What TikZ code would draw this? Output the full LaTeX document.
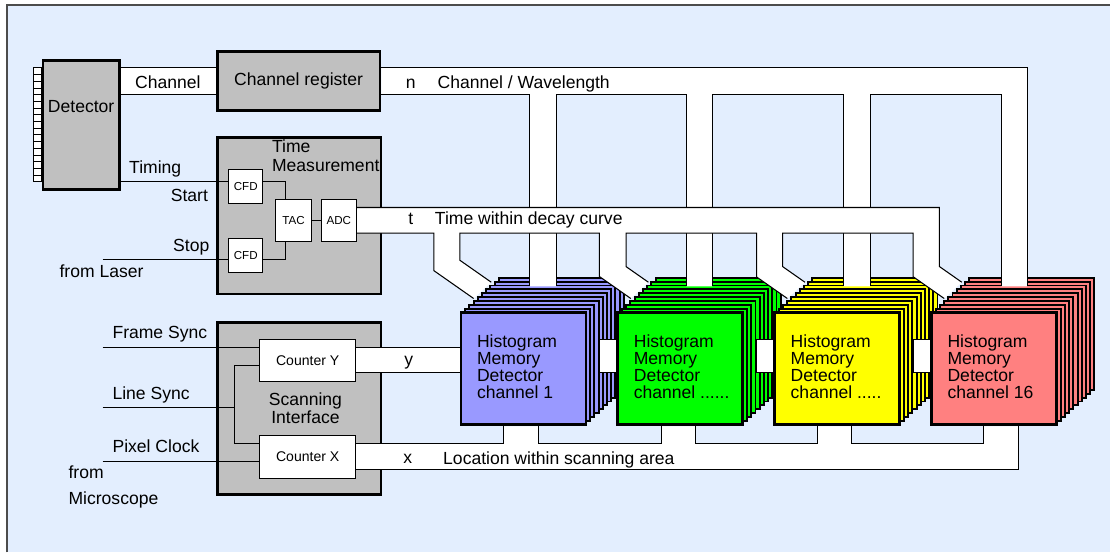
\documentclass[tikz,border=0pt]{standalone}
\usepackage{fontspec}
\setmainfont{Liberation Sans}
\definecolor{bgblue}{HTML}{E3EEFE}
\definecolor{boxgray}{HTML}{C0C0C0}
\definecolor{memblue}{HTML}{9999FF}
\definecolor{memgreen}{HTML}{00FF00}
\definecolor{memyellow}{HTML}{FFFF00}
\definecolor{memred}{HTML}{FF8080}
\begin{document}
\begin{tikzpicture}[
        x=0.02cm, y=-0.02cm,
        grayn/.style={draw, fill=boxgray, line width=1.6pt, inner sep=0pt},
        whiten/.style={draw, fill=white, line width=0.6pt, inner sep=0pt},
        memn/.style={draw, line width=1.6pt, minimum width=2.504cm, minimum height=2.244cm},
        memlayer/.style={draw, line width=1.1pt},
        memtext/.style={anchor=west, align=left, inner sep=0pt, font=\fontsize{10}{9.8}\selectfont},
        wire/.style={line width=0.6pt},
        lbl/.style={anchor=base west, inner sep=0pt},
        cfdfont/.style={font=\fontsize{6.6}{7}\selectfont},
        cntfont/.style={font=\fontsize{8}{9}\selectfont},
    ]
    \fill[bgblue] (7,5) rectangle (1111,553);
    \draw[line width=1.2pt, black!70] (7,553) -- (7,5) -- (1111,5);
    \useasboundingbox (0,0) rectangle (1111,553);

    % channel bus
    \fill[white] (120,68) rectangle (217,94.3);
    \draw[wire] (120,68) -- (217,68) (120,94.3) -- (217,94.3);

    % detector, register and the two interfaces
    \foreach \i in {0,...,16}
        \draw[fill=white, line width=0.5pt] (33,68+6.7*\i) rectangle ++(8.7,6.7);
    \node[grayn, minimum width=1.524cm, minimum height=2.578cm] (det) at (81.2,125.2) {};
    \node[anchor=base] (detlbl) at (81.2,112.3) {Detector};
    \node[grayn, minimum width=3.258cm, minimum height=1.178cm] (chreg) at (298.85,80.85) {Channel register};
    \node[grayn, minimum width=3.278cm, minimum height=3.138cm] (tm) at (299.35,215.85) {};
    \node[anchor=west, align=left, inner sep=0pt, font=\fontsize{10}{10.4}\selectfont] (tmlbl) at (272,156) {Time\\Measurement};
    \node[grayn, minimum width=3.278cm, minimum height=3.458cm] (scan) at (299.35,408.85) {};
    \node[align=center, inner sep=0pt, font=\fontsize{10}{9}\selectfont] (scanlbl) at (305.7,409) {Scanning\\Interface};

    % y and x buses
    \fill[white] (350,348.3) rectangle (460,373.3);
    \draw[wire] (350,348.3) -- (460,348.3) (350,373.3) -- (460,373.3);
    \fill[white] (350,444) -- (504.3,444) -- (504.3,426.7) -- (539.3,426.7) -- (539.3,444) -- (661.7,444) -- (661.7,426.7) -- (696,426.7) -- (696,444) -- (818.3,444) -- (818.3,426.7) -- (852.7,426.7) -- (852.7,444) -- (984,444) -- (984,426.7) -- (1019,426.7) -- (1019,470) -- (350,470) -- cycle;
    \draw[wire] (350,444) -- (504.3,444) -- (504.3,426.7)
        (539.3,426.7) -- (539.3,444) -- (661.7,444) -- (661.7,426.7)
        (696,426.7) -- (696,444) -- (818.3,444) -- (818.3,426.7)
        (852.7,426.7) -- (852.7,444) -- (984,444) -- (984,426.7)
        (1019,426.7) -- (1019,470) -- (350,470);

    % histogram memory stacks
    \foreach \fl/\col [count=\k] in {460/memblue, 617/memgreen, 774/memyellow, 931/memred}{
        \ifnum\k>1 \draw[wire, fill=white] (\fl-17,340) rectangle (\fl,373.3); \fi
        \foreach \i in {9,...,1}
            \draw[memlayer, fill=\col] (\fl+1.4+4.2*\i,313.1-3.9*\i) rectangle ++(125.2,112.2);
        \node[memn, fill=\col] (hm\k) at (\fl+64,369.2) {};
    }
    \node[memtext] (hmlbl1) at ([xshift=0.342cm, yshift=0.04cm]hm1.west) {Histogram\\Memory\\Detector\\channel 1};
    \node[memtext] (hmlbl2) at ([xshift=0.342cm, yshift=0.04cm]hm2.west) {Histogram\\Memory\\Detector\\channel ......};
    \node[memtext] (hmlbl3) at ([xshift=0.342cm, yshift=0.04cm]hm3.west) {Histogram\\Memory\\Detector\\channel .....};
    \node[memtext] (hmlbl4) at ([xshift=0.342cm, yshift=0.04cm]hm4.west) {Histogram\\Memory\\Detector\\channel 16};

    % n bus
    \fill[white] (381.7,68) -- (1028,68) -- (1028,286.7) -- (1002,286.7) -- (1002,94.3) -- (871,94.3) -- (871,286.7) -- (844,286.7) -- (844,94.3) -- (713,94.3) -- (713,286.7) -- (687,286.7) -- (687,94.3) -- (557,94.3) -- (557,286.7) -- (530,286.7) -- (530,94.3) -- (381.7,94.3) -- cycle;
    \draw[wire] (381.7,68) -- (1028,68) -- (1028,286.7)
        (1002,286.7) -- (1002,94.3) -- (871,94.3) -- (871,286.7)
        (844,286.7) -- (844,94.3) -- (713,94.3) -- (713,286.7)
        (687,286.7) -- (687,94.3) -- (557,94.3) -- (557,286.7)
        (530,286.7) -- (530,94.3) -- (381.7,94.3);

    % t bus
    \fill[white] (350,207.7) -- (940.3,207.7) -- (940.3,266.8) -- (962.7,282.5) -- (945.1,298.8) -- (914,277) -- (914,233.3) -- (783.3,233.3) -- (783.3,266.8) -- (805.7,282.5) -- (788.1,298.8) -- (757.3,277.2) -- (757.3,233.3) -- (626.7,233.3) -- (626.7,266.9) -- (649,282.5) -- (631.4,298.8) -- (600,276.8) -- (600,233.3) -- (460.3,233.3) -- (460.3,260.5) -- (491.7,282.5) -- (474.1,298.8) -- (434.3,270.9) -- (434.3,233.3) -- (350,233.3) -- cycle;
    \draw[wire] (350,207.7) -- (940.3,207.7) -- (940.3,266.8) -- (962.7,282.5)
        (945.1,298.8) -- (914,277) -- (914,233.3) -- (783.3,233.3) -- (783.3,266.8) -- (805.7,282.5)
        (788.1,298.8) -- (757.3,277.2) -- (757.3,233.3) -- (626.7,233.3) -- (626.7,266.9) -- (649,282.5)
        (631.4,298.8) -- (600,276.8) -- (600,233.3) -- (460.3,233.3) -- (460.3,260.5) -- (491.7,282.5)
        (474.1,298.8) -- (434.3,270.9) -- (434.3,233.3) -- (350,233.3);

    % inner blocks
    \node[whiten, cfdfont, minimum width=0.674cm, minimum height=0.68cm] (cfda) at (246,186.8) {CFD};
    \node[whiten, cfdfont, minimum width=0.674cm, minimum height=0.68cm] (cfdb) at (246,256) {CFD};
    \node[whiten, cfdfont, minimum width=0.72cm, minimum height=0.848cm] (tac) at (293.8,221) {TAC};
    \node[whiten, cfdfont, minimum width=0.706cm, minimum height=0.848cm] (adc) at (339.15,221) {ADC};
    \node[whiten, cntfont, minimum width=1.928cm, minimum height=0.848cm] (cnty) at (308,361) {Counter Y};
    \node[whiten, cntfont, minimum width=1.928cm, minimum height=0.866cm] (cntx) at (308,457.15) {Counter X};

    % signal wires
    \coordinate (laser) at (102.7,259.3);
    \coordinate (fsync) at (102.7,347.7);
    \coordinate (lsync) at (102.7,408.3);
    \coordinate (pclk) at (102.7,461.7);
    \draw[wire] (det.east |- 0,181.7) -- (cfda.west |- 0,181.7);
    \draw[wire] (cfda.east |- 0,181.7) -| (tac.north -| 286,0);
    \draw[wire] (laser) -- (cfdb.west |- laser);
    \draw[wire] (cfdb.east |- laser) -| (tac.south -| 286,0);
    \draw[wire] (tac.east) -- (adc.west);
    \draw[wire] (fsync) -- (cnty.west |- fsync);
    \draw[wire] (lsync) -- (234.3,408.3);
    \draw[wire] (cnty.west |- 0,365.7) -- (234.3,365.7) -- (234.3,444) -- (cntx.west |- 0,444);
    \draw[wire] (pclk) -- (cntx.west |- pclk);

    % labels
    \node[lbl] (chlbl) at (135,88.3) {Channel};
    \node[lbl] (nlbl) at (406,88.3) {n};
    \node[lbl] (nbuslbl) at (437.7,88.3) {Channel / Wavelength};
    \node[lbl] (timinglbl) at (129,173.5) {Timing};
    \node[lbl] (startlbl) at (170.7,201.3) {Start};
    \node[lbl] (stoplbl) at (173,251.7) {Stop};
    \node[lbl] (laserlbl) at (59.3,277.7) {from Laser};
    \node[lbl] (tlbl) at (408.3,224.5) {t};
    \node[lbl] (tbuslbl) at (435,224.5) {Time within decay curve};
    \node[lbl] (fsynclbl) at (112.3,339) {Frame Sync};
    \node[lbl] (lsynclbl) at (112.3,400) {Line Sync};
    \node[lbl] (pclklbl) at (112.3,453.3) {Pixel Clock};
    \node[lbl] (fromlbl) at (68.3,479) {from};
    \node[lbl] (microlbl) at (68.3,505) {Microscope};
    \node[lbl] (ylbl) at (404.3,366) {y};
    \node[lbl] (xlbl) at (403.3,464.3) {x};
    \node[lbl] (xbuslbl) at (443.3,465) {Location within scanning area};
\end{tikzpicture}
\end{document}
